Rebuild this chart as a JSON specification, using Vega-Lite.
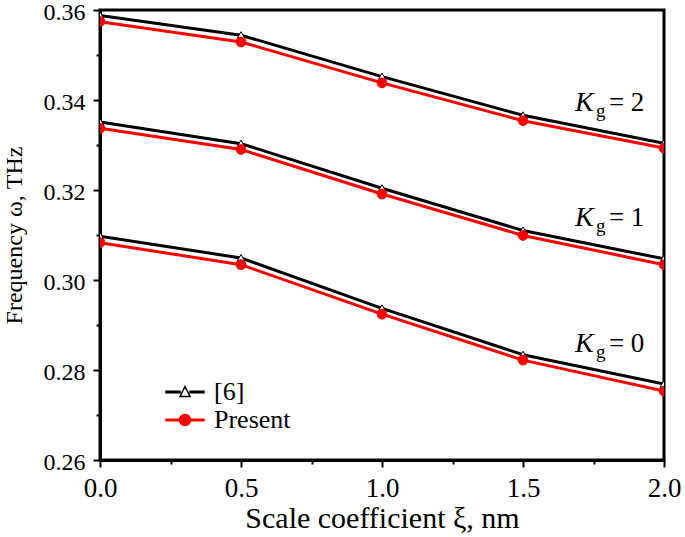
{
  "$schema": "https://vega.github.io/schema/vega-lite/v6.json",
  "width": 564,
  "height": 450,
  "autosize": {"type": "none"},
  "padding": {"left": 100, "top": 10, "right": 21, "bottom": 77},
  "background": "white",
  "config": {
    "view": {"stroke": "black", "strokeWidth": 3},
    "font": "Liberation Serif",
    "axis": {
      "grid": false,
      "domainColor": "black",
      "domainWidth": 3,
      "tickColor": "black",
      "tickWidth": 2,
      "labelFont": "Liberation Serif",
      "labelColor": "black",
      "titleFont": "Liberation Serif",
      "titleFontWeight": "normal",
      "titleColor": "black"
    },
    "legend": {
      "labelFont": "Liberation Serif",
      "labelFontSize": 26,
      "labelColor": "black"
    }
  },
  "datasets": {
    "curves": [
      {"x": 0.0, "y": 0.3588, "series": "[6]", "kg": 2},
      {"x": 0.5, "y": 0.3544, "series": "[6]", "kg": 2},
      {"x": 1.0, "y": 0.3452, "series": "[6]", "kg": 2},
      {"x": 1.5, "y": 0.3366, "series": "[6]", "kg": 2},
      {"x": 2.0, "y": 0.3304, "series": "[6]", "kg": 2},
      {"x": 0.0, "y": 0.3574, "series": "Present", "kg": 2},
      {"x": 0.5, "y": 0.3529, "series": "Present", "kg": 2},
      {"x": 1.0, "y": 0.3438, "series": "Present", "kg": 2},
      {"x": 1.5, "y": 0.3354, "series": "Present", "kg": 2},
      {"x": 2.0, "y": 0.3293, "series": "Present", "kg": 2},
      {"x": 0.0, "y": 0.3351, "series": "[6]", "kg": 1},
      {"x": 0.5, "y": 0.3303, "series": "[6]", "kg": 1},
      {"x": 1.0, "y": 0.3204, "series": "[6]", "kg": 1},
      {"x": 1.5, "y": 0.3110, "series": "[6]", "kg": 1},
      {"x": 2.0, "y": 0.3047, "series": "[6]", "kg": 1},
      {"x": 0.0, "y": 0.3337, "series": "Present", "kg": 1},
      {"x": 0.5, "y": 0.3290, "series": "Present", "kg": 1},
      {"x": 1.0, "y": 0.3191, "series": "Present", "kg": 1},
      {"x": 1.5, "y": 0.3099, "series": "Present", "kg": 1},
      {"x": 2.0, "y": 0.3034, "series": "Present", "kg": 1},
      {"x": 0.0, "y": 0.3097, "series": "[6]", "kg": 0},
      {"x": 0.5, "y": 0.3049, "series": "[6]", "kg": 0},
      {"x": 1.0, "y": 0.2937, "series": "[6]", "kg": 0},
      {"x": 1.5, "y": 0.2834, "series": "[6]", "kg": 0},
      {"x": 2.0, "y": 0.2769, "series": "[6]", "kg": 0},
      {"x": 0.0, "y": 0.3083, "series": "Present", "kg": 0},
      {"x": 0.5, "y": 0.3034, "series": "Present", "kg": 0},
      {"x": 1.0, "y": 0.2924, "series": "Present", "kg": 0},
      {"x": 1.5, "y": 0.2822, "series": "Present", "kg": 0},
      {"x": 2.0, "y": 0.2753, "series": "Present", "kg": 0}
    ],
    "labels": [
      {"lx": 1.684, "ly": 0.3375, "k": "K", "sub": "g", "rest": "= 2"},
      {"lx": 1.684, "ly": 0.3121, "k": "K", "sub": "g", "rest": "= 1"},
      {"lx": 1.684, "ly": 0.2840, "k": "K", "sub": "g", "rest": "= 0"}
    ]
  },
  "resolve": {"axis": {"x": "independent", "y": "independent"}},
  "layer": [
    {
      "data": {"name": "curves"},
      "mark": {"type": "line", "strokeWidth": 3, "clip": true},
      "encoding": {
        "x": {
          "field": "x", "type": "quantitative",
          "scale": {"domain": [0, 2], "nice": false, "zero": false},
          "axis": {
            "orient": "bottom",
            "values": [0, 0.5, 1, 1.5, 2],
            "format": ".1f",
            "tickSize": 7,
            "labelPadding": 8,
            "labelFontSize": 27,
            "labelFlush": false,
            "title": "Scale coefficient ξ, nm",
            "titleFontSize": 30,
            "titlePadding": 2
          }
        },
        "y": {
          "field": "y", "type": "quantitative",
          "scale": {"domain": [0.26, 0.36], "nice": false, "zero": false},
          "axis": {
            "orient": "left",
            "values": [0.26, 0.28, 0.30, 0.32, 0.34, 0.36],
            "format": ".2f",
            "tickSize": 7,
            "labelPadding": 8,
            "labelFontSize": 24,
            "labelOffset": 2,
            "labelFlush": false,
            "title": "Frequency ω, THz",
            "titleFontSize": 24,
            "titlePadding": 17
          }
        },
        "color": {
          "field": "series", "type": "nominal",
          "scale": {"domain": ["[6]", "Present"], "range": ["black", "red"]},
          "legend": {
            "orient": "none",
            "legendX": 72,
            "legendY": 369,
            "padding": 0,
            "title": null,
            "symbolSize": 100,
            "labelOffset": 16,
            "rowPadding": 2,
            "encode": {
              "symbols": {
                "update": {
                  "shape": {"signal": "datum.value === '[6]' ? 'M-3.8,-0.15H-1V0.15H-3.8Z M1,-0.15H3.8V0.15H1Z M-1,0.9L0,-1.1L1,0.9Z' : 'M-3.8,-0.15H3.8V0.15H-3.8Z M-1.1,0A1.1,1.1 0 1,0 1.1,0A1.1,1.1 0 1,0 -1.1,0Z'"},
                  "fill": {"signal": "datum.value === '[6]' ? 'white' : 'red'"},
                  "stroke": {"signal": "datum.value === '[6]' ? 'black' : 'red'"},
                  "strokeWidth": {"value": 1.5},
                  "opacity": {"value": 1},
                  "fillOpacity": {"value": 1},
                  "strokeOpacity": {"value": 1}
                }
              }
            }
          }
        },
        "detail": {"field": "kg"}
      }
    },
    {
      "data": {"name": "curves"},
      "mark": {"type": "point", "filled": true, "strokeWidth": 1, "opacity": 1, "clip": true},
      "encoding": {
        "x": {"field": "x", "type": "quantitative", "axis": null},
        "y": {"field": "y", "type": "quantitative", "axis": null},
        "shape": {
          "field": "series", "type": "nominal",
          "scale": {"domain": ["Present", "[6]"], "range": ["circle", "triangle-up"]},
          "legend": null
        },
        "fill": {
          "field": "series", "type": "nominal",
          "scale": {"domain": ["Present", "[6]"], "range": ["red", "white"]},
          "legend": null
        },
        "stroke": {
          "field": "series", "type": "nominal",
          "scale": {"domain": ["Present", "[6]"], "range": ["red", "black"]},
          "legend": null
        },
        "size": {
          "field": "series", "type": "nominal",
          "scale": {"domain": ["Present", "[6]"], "range": [95, 65]},
          "legend": null
        }
      }
    },
    {
      "data": {"name": "curves"},
      "mark": {"type": "point", "opacity": 0},
      "encoding": {
        "x": {
          "field": "x", "type": "quantitative",
          "axis": {
            "orient": "bottom",
            "values": [0.25, 0.75, 1.25, 1.75],
            "tickSize": 4,
            "labels": false,
            "domain": false,
            "title": null
          }
        },
        "y": {
          "field": "y", "type": "quantitative",
          "axis": {
            "orient": "left",
            "values": [0.27, 0.29, 0.31, 0.33, 0.35],
            "tickSize": 4,
            "labels": false,
            "domain": false,
            "title": null
          }
        }
      }
    },
    {
      "data": {"name": "labels"},
      "mark": {"type": "text", "font": "Liberation Serif", "fontStyle": "italic", "fontSize": 28, "align": "left", "baseline": "alphabetic", "color": "black"},
      "encoding": {
        "x": {"field": "lx", "type": "quantitative", "axis": null},
        "y": {"field": "ly", "type": "quantitative", "axis": null},
        "text": {"field": "k"}
      }
    },
    {
      "data": {"name": "labels"},
      "mark": {"type": "text", "font": "Liberation Serif", "fontSize": 19, "align": "left", "baseline": "alphabetic", "dx": 21, "dy": 6, "color": "black"},
      "encoding": {
        "x": {"field": "lx", "type": "quantitative", "axis": null},
        "y": {"field": "ly", "type": "quantitative", "axis": null},
        "text": {"field": "sub"}
      }
    },
    {
      "data": {"name": "labels"},
      "mark": {"type": "text", "font": "Liberation Serif", "fontSize": 27, "align": "left", "baseline": "alphabetic", "dx": 34, "color": "black"},
      "encoding": {
        "x": {"field": "lx", "type": "quantitative", "axis": null},
        "y": {"field": "ly", "type": "quantitative", "axis": null},
        "text": {"field": "rest"}
      }
    }
  ]
}
